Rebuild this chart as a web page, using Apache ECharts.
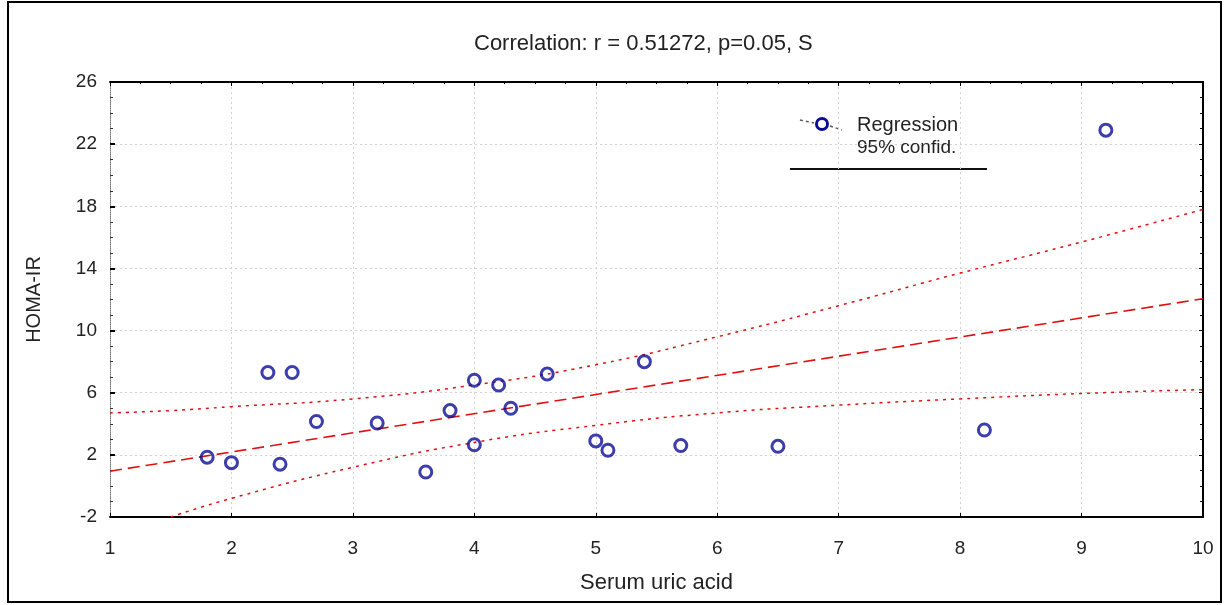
<!DOCTYPE html>
<html>
<head>
<meta charset="utf-8">
<script src="https://cdn.jsdelivr.net/npm/echarts@6/dist/echarts.min.js"></script>
<style>
html,body{margin:0;padding:0;background:#fff;}
#c{width:1227px;height:605px;}
</style>
</head>
<body>
<div id="c"></div>
<script>
// Serum uric acid (x) vs HOMA-IR (y)
var uricAcid = [1.8, 2.0, 2.3, 2.5, 2.4, 2.7, 3.2, 3.6, 3.8, 4.0, 4.0, 4.2, 4.3, 4.6, 5.4, 5.0, 5.1, 5.7, 6.5, 8.2, 9.2];
var homaIR   = [1.85, 1.5, 7.3, 7.3, 1.4, 4.15, 4.05, 0.9, 4.85, 6.8, 2.65, 6.5, 5.0, 7.2, 8.0, 2.9, 2.3, 2.6, 2.55, 3.6, 22.9];

// Regression line end points
var regX = [1, 10];
var regY = [0.95, 12.05];

// 95% confidence bands, read at several x positions
var ciUpperX = [1, 1.5, 2, 3, 4, 5, 6, 7, 8, 9, 10];
var ciUpperY = [4.7, 4.85, 5.1, 5.6, 6.5, 7.8, 9.6, 11.6, 13.7, 15.7, 17.8];
var ciLowerX = [1.5, 2, 3, 4, 5, 6, 7, 8, 9, 10];
var ciLowerY = [-2.0, -0.8, 1.2, 2.8, 3.9, 4.7, 5.2, 5.6, 5.95, 6.2];

var xTicks = {min: 1, max: 10, interval: 1};
var yTicks = {min: -2, max: 26, interval: 4};

var titleText = 'Correlation: r = 0.51272, p=0.05, S';
var xName = 'Serum uric acid';
var yName = 'HOMA-IR';
var legendRegression = 'Regression';
var legendConfid = '95% confid.';

function zip(a, b){ return a.map(function(v, i){ return [v, b[i]]; }); }

var FONT = 'Liberation Sans, Arial, sans-serif';
var TXT = '#222';
var RED = '#e01010';
var NAVY = '#0c0c96';

var chart = echarts.init(document.getElementById('c'), null, {renderer: 'canvas'});
chart.setOption({
  backgroundColor: '#fff',
  animation: false,
  title: {
    text: titleText, left: 474, top: 33, padding: 0,
    textStyle: {fontFamily: FONT, fontSize: 22, fontWeight: 'normal', color: TXT}
  },
  grid: {left: 110, right: 24, top: 82, bottom: 88, containLabel: false},
  xAxis: [{
    type: 'value', min: xTicks.min, max: xTicks.max, interval: xTicks.interval,
    name: xName, nameLocation: 'middle', nameGap: 55,
    nameTextStyle: {fontFamily: FONT, fontSize: 22, color: TXT},
    axisLine: {show: true, onZero: false, lineStyle: {color: '#000', width: 2}},
    axisTick: {show: true, inside: true, length: 4, lineStyle: {color: '#000'}},
    axisLabel: {fontFamily: FONT, fontSize: 19, color: TXT, margin: 22},
    splitLine: {show: true, lineStyle: {color: '#d2d2d2', type: [2, 3], width: 1}}
  }, {
    type: 'value', position: 'top', min: xTicks.min, max: xTicks.max, interval: xTicks.interval,
    axisLine: {show: true, onZero: false, lineStyle: {color: '#000', width: 2}},
    axisTick: {show: true, inside: true, length: 4, lineStyle: {color: '#000'}},
    minorTick: {show: true, splitNumber: 4, length: 2, lineStyle: {color: '#000'}},
    axisLabel: {show: false}, splitLine: {show: false}
  }],
  yAxis: [{
    type: 'value', min: yTicks.min, max: yTicks.max, interval: yTicks.interval,
    name: yName, nameLocation: 'middle', nameGap: 66, nameRotate: 90,
    nameTextStyle: {fontFamily: FONT, fontSize: 20, color: TXT},
    axisLine: {show: true, onZero: false, lineStyle: {color: '#777', type: 'dotted', width: 1}},
    axisTick: {show: true, inside: true, length: 5, lineStyle: {color: '#000', width: 2}},
    minorTick: {show: true, splitNumber: 4, length: 3, lineStyle: {color: '#333'}},
    axisLabel: {fontFamily: FONT, fontSize: 19, color: TXT, margin: 13},
    splitLine: {show: true, lineStyle: {color: '#d2d2d2', type: [2, 3], width: 1}}
  }, {
    type: 'value', position: 'right', min: yTicks.min, max: yTicks.max, interval: yTicks.interval,
    axisLine: {show: true, onZero: false, lineStyle: {color: '#000', width: 2}},
    axisTick: {show: true, inside: true, length: 4, lineStyle: {color: '#000'}},
    minorTick: {show: true, splitNumber: 4, length: 3, lineStyle: {color: '#000'}},
    axisLabel: {show: false}, splitLine: {show: false}
  }],
  series: [{
    name: 'ciUpper', type: 'line', smooth: true, showSymbol: false,
    data: zip(ciUpperX, ciUpperY),
    lineStyle: {color: RED, width: 1.5, type: [3, 5]}, z: 2
  }, {
    name: 'ciLower', type: 'line', smooth: true, showSymbol: false,
    data: zip(ciLowerX, ciLowerY),
    lineStyle: {color: RED, width: 1.5, type: [3, 5]}, z: 2
  }, {
    name: 'Regression', type: 'line', showSymbol: false,
    data: zip(regX, regY),
    lineStyle: {color: RED, width: 1.6, type: [12, 6]}, z: 3
  }, {
    name: 'data', type: 'scatter', symbol: 'circle', symbolSize: 12,
    data: zip(uricAcid, homaIR),
    itemStyle: {color: 'rgba(255,255,255,0)', borderColor: NAVY, borderWidth: 3}, z: 5
  }],
  graphic: [
    {type: 'rect', shape: {x: 8, y: 2, width: 1213, height: 600}, style: {fill: 'none', stroke: '#000', lineWidth: 2}, silent: true},
    {type: 'line', shape: {x1: 800, y1: 120, x2: 814, y2: 123}, style: {stroke: '#555', lineWidth: 1.5, lineDash: [3, 3]}},
    {type: 'line', shape: {x1: 830, y1: 126, x2: 842, y2: 130}, style: {stroke: '#555', lineWidth: 1.5, lineDash: [3, 3]}},
    {type: 'circle', shape: {cx: 822, cy: 124, r: 5.5}, style: {fill: '#fff', stroke: NAVY, lineWidth: 3}},
    {type: 'text', x: 857, y: 125, style: {text: legendRegression, font: '20px ' + FONT, fill: TXT, align: 'left', verticalAlign: 'middle'}},
    {type: 'text', x: 857, y: 148, style: {text: legendConfid, font: '19px ' + FONT, fill: TXT, align: 'left', verticalAlign: 'middle'}},
    {type: 'line', shape: {x1: 790, y1: 169, x2: 987, y2: 169}, style: {stroke: '#111', lineWidth: 2}}
  ]
});
</script>
</body>
</html>
